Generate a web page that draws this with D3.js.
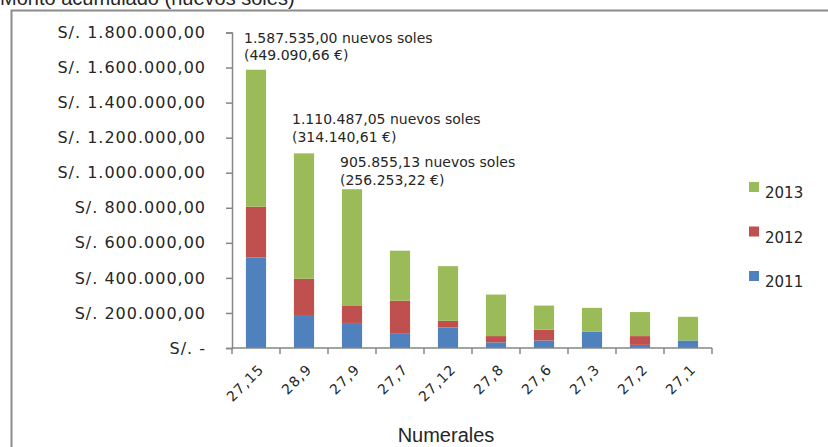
<!DOCTYPE html>
<html>
<head>
<meta charset="utf-8">
<script src="https://cdn.jsdelivr.net/npm/d3@7"></script>
<style>
  body { margin: 0; background: #fff; }
  svg { display: block; }
  text { font-family: "DejaVu Sans", Verdana, sans-serif; fill: #262626; }
</style>
</head>
<body>
<div id="chart_container"></div>
<script>
/** --- DATA --- */
const categories = ['27,15', '28,9', '27,9', '27,7', '27,12', '27,8', '27,6', '27,3', '27,2', '27,1'];
const years = ['2011', '2012', '2013'];
const values2011 = [517000, 183000, 143000, 81000, 117000, 32000, 43000, 94000, 18000, 43000];
const values2012 = [289000, 212000, 100000, 189000, 38000, 36000, 62000, 0, 50000, 0];
const values2013 = [781535, 715487, 662855, 285000, 312000, 237000, 137000, 135000, 137000, 135000];
const yTicks = [0, 200000, 400000, 600000, 800000, 1000000, 1200000, 1400000, 1600000, 1800000];
const noteLines = [
  ['1.587.535,00 nuevos soles', '(449.090,66 €)'],
  ['1.110.487,05 nuevos soles', '(314.140,61 €)'],
  ['905.855,13 nuevos soles', '(256.253,22 €)']
];
const title = 'Monto acumulado (nuevos soles)';
const xTitle = 'Numerales';

/** --- DIMENSIONS --- */
const width = 828;
const height = 447;
const colors = { '2011': '#4f81bd', '2012': '#c0504d', '2013': '#9bbb59' };

const svg = d3.select('#chart_container')
  .append('svg')
  .attr('width', width)
  .attr('height', height);

// outer frame (only top + left visible in the crop)
svg.append('path')
  .attr('d', 'M11.5,447 V10.5 H828')
  .attr('fill', 'none')
  .attr('stroke', '#8c8c8c')
  .attr('stroke-width', 2);

// title is cropped at the top edge, like the source image
svg.append('text')
  .attr('x', 0)
  .attr('y', 5)
  .style('font-family', '"Liberation Sans", Arial, sans-serif')
  .style('font-size', '20px')
  .text(title);

/** --- SCALES --- */
const xScale = d3.scaleBand()
  .domain(categories)
  .range([232, 712])
  .padding(0);

const yScale = d3.scaleLinear()
  .domain([0, 1800000])
  .range([348, 32.5]);

const locale = d3.formatLocale({ decimal: ',', thousands: '.', grouping: [3], currency: ['', ''] });
const fmt = locale.format(',.2f');
const yFormat = d => d === 0 ? 'S/. -' : 'S/. ' + fmt(d);

/** --- STACK --- */
const rows = categories.map((c, i) => ({
  cat: c,
  '2011': values2011[i],
  '2012': values2012[i],
  '2013': values2013[i]
}));
const series = d3.stack().keys(years)(rows);

const barW = xScale.bandwidth() * 0.42;

svg.append('g')
  .selectAll('g')
  .data(series)
  .join('g')
  .attr('fill', d => colors[d.key])
  .selectAll('rect')
  .data(d => d)
  .join('rect')
  .attr('x', d => xScale(d.data.cat) + (xScale.bandwidth() - barW) / 2)
  .attr('y', d => yScale(d[1]))
  .attr('width', barW)
  .attr('height', d => yScale(d[0]) - yScale(d[1]));

/** --- AXES --- */
const axisColor = '#868686';

const yAxis = svg.append('g')
  .attr('transform', 'translate(232,0)')
  .call(d3.axisLeft(yScale).tickValues(yTicks).tickFormat(yFormat).tickSize(6).tickPadding(20));
yAxis.select('.domain').attr('stroke', axisColor).attr('stroke-width', 1.5);
yAxis.selectAll('.tick line').attr('stroke', axisColor).attr('stroke-width', 1.5);
yAxis.selectAll('.tick text')
  .attr('fill', '#2e2e2e')
  .style('font-family', '"DejaVu Sans", Verdana, sans-serif')
  .style('font-size', '16px')
  .style('letter-spacing', '1px');

const xAxis = svg.append('g')
  .attr('transform', 'translate(0,348)');
xAxis.append('line')
  .attr('x1', xScale.range()[0])
  .attr('x2', xScale.range()[1])
  .attr('stroke', axisColor)
  .attr('stroke-width', 1.5);
xAxis.selectAll('line.tk')
  .data(categories.concat(['end']))
  .join('line')
  .attr('class', 'tk')
  .attr('x1', (d, i) => i < categories.length ? xScale(d) : xScale.range()[1])
  .attr('x2', (d, i) => i < categories.length ? xScale(d) : xScale.range()[1])
  .attr('y1', 0)
  .attr('y2', 6)
  .attr('stroke', axisColor)
  .attr('stroke-width', 1.5);
xAxis.selectAll('text.lbl')
  .data(categories)
  .join('text')
  .attr('class', 'lbl')
  .attr('text-anchor', 'end')
  .attr('transform', d => `translate(${xScale(d) + xScale.bandwidth() / 2 + 9},${22}) rotate(-45)`)
  .style('font-size', '14px')
  .style('letter-spacing', '1.2px')
  .attr('fill', '#2e2e2e')
  .text(d => d);

svg.append('text')
  .attr('x', 446)
  .attr('y', 442)
  .attr('text-anchor', 'middle')
  .style('font-family', '"Liberation Sans", Arial, sans-serif')
  .style('font-size', '20px')
  .text(xTitle);

/** --- ANNOTATIONS --- */
const noteY = [[43, 60], [123.5, 141.5], [167, 185]];
noteLines.forEach((lines, i) => {
  lines.forEach((t, j) => {
    svg.append('text')
      .attr('x', xScale(categories[i]) + 12)
      .attr('y', noteY[i][j])
      .style('font-size', '14px')
      .text(t);
  });
});

/** --- LEGEND --- */
const legend = svg.append('g')
  .attr('transform', 'translate(749,182)');
const legendItems = years.slice().reverse();
legend.selectAll('rect')
  .data(legendItems)
  .join('rect')
  .attr('x', 0)
  .attr('y', (d, i) => i * 44.5)
  .attr('width', 10)
  .attr('height', 10)
  .attr('fill', d => colors[d]);
legend.selectAll('text')
  .data(legendItems)
  .join('text')
  .attr('x', 16)
  .attr('y', (d, i) => i * 44.5 + 16)
  .style('font-size', '15px')
  .text(d => d);
</script>
</body>
</html>
